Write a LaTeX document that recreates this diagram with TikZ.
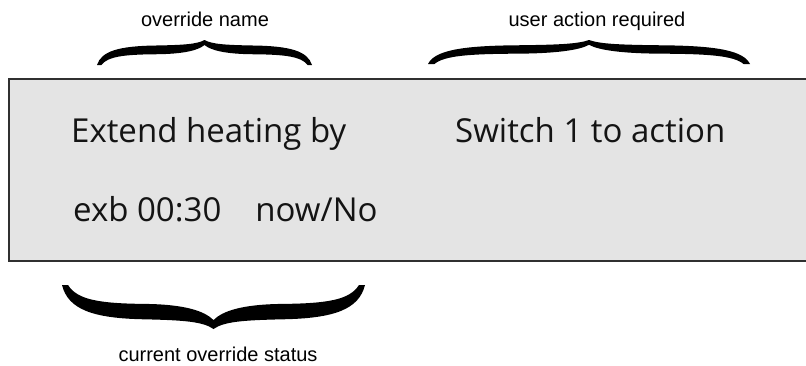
\documentclass[tikz,border=0pt]{standalone}
\usepackage{fontspec}
\setmainfont{Liberation Sans}
\newfontfamily\lcdfont{Open Sans}
\usetikzlibrary{positioning}

\definecolor{lcdgrey}{HTML}{E4E4E4}
\definecolor{lcdedge}{HTML}{303030}

\tikzset{
  lcdtext/.style={font=\lcdfont\fontsize{33}{33}\selectfont, text=black!92, inner sep=0pt, anchor=base west},
  notetext/.style={font=\fontsize{20}{20}\selectfont, inner sep=0pt, anchor=base},
  pics/curlybrace/.style={code={
    \fill (-1,0) .. controls (-0.96,-0.55) and (-0.8,-0.76) .. (-0.45,-0.78)
      .. controls (-0.2,-0.8) and (-0.07,-0.83) .. (0,-1)
      .. controls (0.07,-0.83) and (0.2,-0.8) .. (0.45,-0.78)
      .. controls (0.8,-0.76) and (0.96,-0.55) .. (1,0)
      -- (0.96,0)
      .. controls (0.9,-0.34) and (0.75,-0.42) .. (0.45,-0.43)
      .. controls (0.2,-0.44) and (0.06,-0.58) .. (0,-0.8)
      .. controls (-0.06,-0.58) and (-0.2,-0.44) .. (-0.45,-0.43)
      .. controls (-0.75,-0.42) and (-0.9,-0.34) .. (-0.96,0) -- cycle;
  }}
}

\begin{document}
\begin{tikzpicture}[x=1pt,y=-1pt]
  \useasboundingbox (0,0) rectangle (806,365);
  % display panel
  \draw[lcdedge, line width=1.5pt, fill=lcdgrey] (9,79) rectangle (820,261);
  \node[lcdtext] (extend) at (71,142) {Extend heating by};
  \node[lcdtext] (switch) at (455,142) {Switch 1 to action};
  \node[lcdtext] (status) at (73,221) {exb 00:30\hspace{34pt}now/No};
  % braces and notes
  \pic[xscale=107.5, yscale=25] at (204.5,65) {curlybrace};
  \pic[xscale=161, yscale=24] at (589,64) {curlybrace};
  \pic[xscale=151.5, yscale=-44] at (213.5,285) {curlybrace};
  \node[notetext] (namenote) at (205,26) {override name};
  \node[notetext] (actionnote) at (597,26) {user action required};
  \node[notetext] (statusnote) at (218,361) {current override status};
\end{tikzpicture}
\end{document}
